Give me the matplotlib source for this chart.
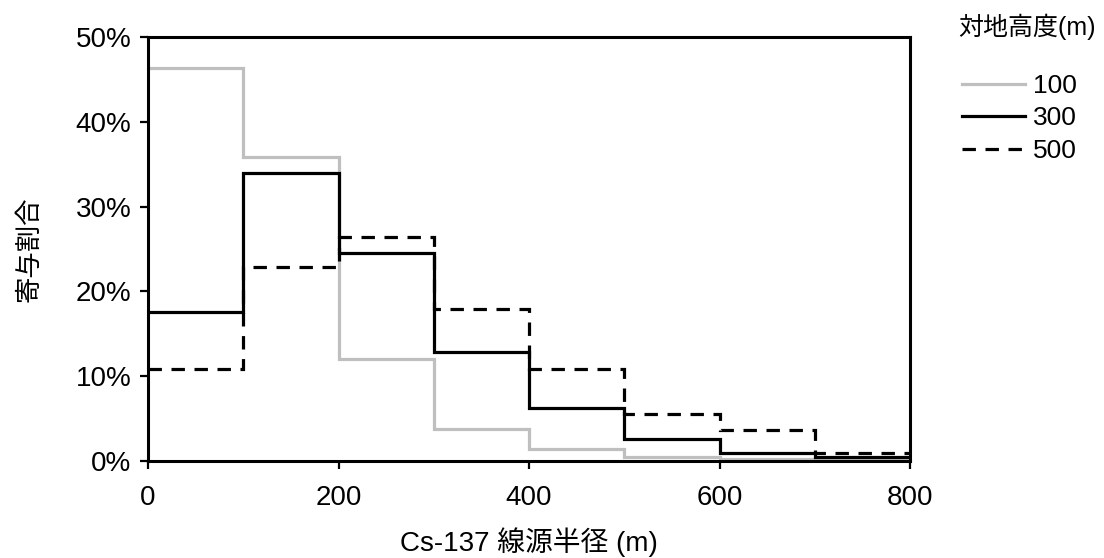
import matplotlib
matplotlib.use("Agg")
import matplotlib.pyplot as plt
import numpy as np
from matplotlib.ticker import FuncFormatter
from matplotlib.lines import Line2D

plt.rcParams['font.family'] = ['Liberation Sans', 'Noto Sans CJK JP', 'DejaVu Sans']

edges = [0, 100, 200, 300, 400, 500, 600, 700, 800]
series_labels = ["100", "300", "500"]
h100 = [46.3, 35.9, 12.0, 3.8, 1.4, 0.5, 0.2, 0.1]
h300 = [17.6, 34.0, 24.5, 12.9, 6.3, 2.6, 0.9, 0.5]
h500 = [10.9, 22.9, 26.4, 17.9, 10.8, 5.5, 3.6, 1.0]
xticks = [0, 200, 400, 600, 800]
yticks = [0, 10, 20, 30, 40, 50]

W, H = 1104, 558
fig = plt.figure(figsize=(W / 100, H / 100), dpi=100)
ax = fig.add_axes([148 / W, 1 - 461 / H, 762 / W, 424 / H])

lw = 2.3
dash = (0, (4.2, 3.0))
ax.stairs(h100, edges, color='#BFBFBF', linewidth=lw, baseline=None)
ax.stairs(h300, edges, color='black', linewidth=lw, baseline=None)
ax.stairs(h500, edges, color='black', linewidth=lw, baseline=None, linestyle=dash)

ax.set_xlim(0, 800)
ax.set_ylim(0, 50)
ax.set_xticks(xticks)
ax.set_yticks(yticks)
ax.yaxis.set_major_formatter(FuncFormatter(lambda v, p: f"{int(round(v))}%"))
ax.tick_params(axis='both', direction='out', length=6, width=1.6, labelsize=20)
ax.tick_params(axis='x', pad=11.5)
ax.tick_params(axis='y', pad=6)
for s in ax.spines.values():
    s.set_linewidth(2.2)
    s.set_color('black')

ax.set_xlabel("Cs-137 線源半径 (m)", fontsize=20)
ax.xaxis.set_label_coords(0.5, (461 - 527) / 424)
ax.set_ylabel("寄与割合", fontsize=19)
ax.yaxis.set_label_coords((41 - 148) / 762, 0.5)

fig.text(958 / W, 1 - 27 / H, "対地高度(m)", fontsize=18, ha='left', va='center')
handles = [Line2D([], [], color='#BFBFBF', lw=lw),
           Line2D([], [], color='black', lw=lw),
           Line2D([], [], color='black', lw=lw, linestyle=dash)]
leg = fig.legend(handles, series_labels, loc='upper left',
                 bbox_to_anchor=(962 / W, 1 - 74 / H),
                 frameon=False, fontsize=19, borderpad=0, borderaxespad=0,
                 handlelength=2.4, handletextpad=0.3, labelspacing=0.32)

fig.savefig("out.png", dpi=100)
